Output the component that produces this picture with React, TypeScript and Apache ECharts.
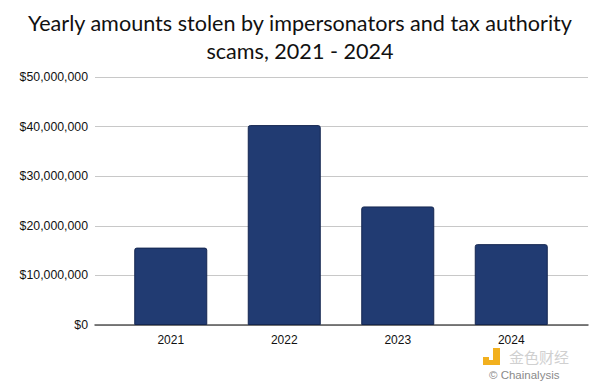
import React, { useEffect, useRef } from "react";
import * as echarts from "echarts";

const categories = ["2021", "2022", "2023", "2024"];
const stolen = [15600000, 40300000, 23900000, 16300000];
const yTicks = [0, 10000000, 20000000, 30000000, 40000000, 50000000];
const titleText = "Yearly amounts stolen by impersonators and tax authority\nscams, 2021 - 2024";

function fmt(v: number) {
  return "$" + v.toLocaleString("en-US");
}

export default function App() {
  const ref = useRef<HTMLDivElement>(null);
  useEffect(() => {
    if (!ref.current) return;
    const chart = echarts.init(ref.current, undefined, { renderer: "svg" });
    const yMax = yTicks[yTicks.length - 1];
    const yInt = yTicks[1] - yTicks[0];
    chart.setOption({
      animation: false,
      backgroundColor: "#ffffff",
      title: {
        text: titleText,
        left: "center",
        top: 4,
        textStyle: {
          fontFamily: "Lato, 'Open Sans', sans-serif",
          fontWeight: "normal",
          fontSize: 21.6,
          color: "#111111",
          lineHeight: 28,
        },
      },
      grid: [
        { left: 95, right: 12, top: 77, bottom: 56 },
        { left: 114, width: 454, top: 77, bottom: 56 },
      ],
      xAxis: [
        {
          type: "category",
          gridIndex: 0,
          data: categories,
          axisLine: { show: true, lineStyle: { color: "#555555", width: 1.5 } },
          axisTick: { show: false },
          axisLabel: { show: false },
        },
        {
          type: "category",
          gridIndex: 1,
          data: categories,
          axisLine: { show: false },
          axisTick: { show: false },
          axisLabel: {
            color: "#111111",
            fontSize: 12,
            lineHeight: 13,
            fontFamily: "'Liberation Sans', Arial, sans-serif",
            margin: 8,
          },
        },
      ],
      yAxis: [
        {
          type: "value",
          gridIndex: 0,
          min: 0,
          max: yMax,
          interval: yInt,
          axisLine: { show: false },
          axisTick: { show: false },
          axisLabel: {
            formatter: (v: number) => fmt(v),
            color: "#111111",
            fontSize: 12.3,
            fontFamily: "'Liberation Sans', Arial, sans-serif",
            margin: 7,
          },
          splitLine: { lineStyle: { color: "#c8c8c8", width: 1 } },
        },
        {
          type: "value",
          gridIndex: 1,
          min: 0,
          max: yMax,
          interval: yInt,
          axisLine: { show: false },
          axisTick: { show: false },
          axisLabel: { show: false },
          splitLine: { show: false },
        },
      ],
      series: [
        {
          type: "bar",
          xAxisIndex: 1,
          yAxisIndex: 1,
          data: stolen,
          barWidth: 73,
          itemStyle: {
            color: "#213b72",
            borderColor: "#142650",
            borderWidth: 1,
            borderRadius: [2, 2, 0, 0],
          },
          z: 3,
        },
      ],
      graphic: [
        { type: "rect", shape: { x: 483, y: 357, width: 6, height: 6 }, style: { fill: "#f2b01e" } },
        { type: "rect", shape: { x: 493, y: 348, width: 7, height: 16 }, style: { fill: "#f2b01e" } },
        { type: "rect", shape: { x: 483, y: 360, width: 17, height: 5 }, style: { fill: "#f2b01e" } },
        {
          type: "text",
          x: 509,
          y: 348,
          style: {
            text: "金色财经",
            fontSize: 15,
            lineHeight: 16,
            verticalAlign: "top",
            fill: "#d0d0d0",
            fontFamily: "'Noto Sans CJK SC', sans-serif",
          },
        },
        {
          type: "text",
          x: 489,
          y: 369,
          style: {
            text: "© Chainalysis",
            fontSize: 11.5,
            lineHeight: 12,
            verticalAlign: "top",
            fill: "#8a8a8a",
            fontFamily: "'Liberation Sans', Arial, sans-serif",
          },
        },
      ],
    });
    return () => chart.dispose();
  }, []);
  return <div ref={ref} style={{ width: 600, height: 381, position: "absolute", left: 0, top: 0 }} />;
}
